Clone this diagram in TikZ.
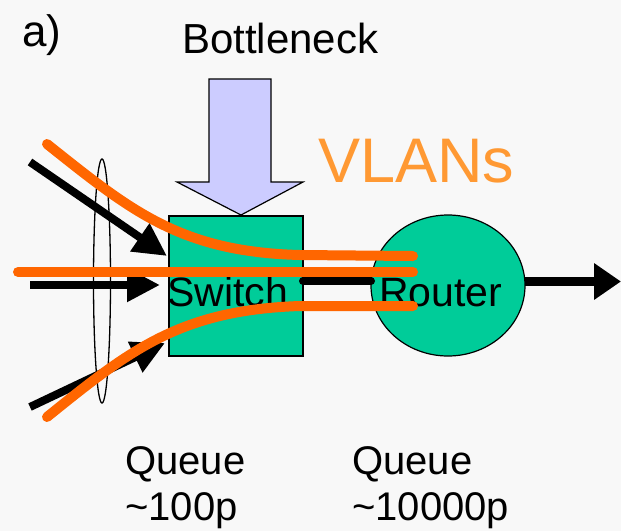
\documentclass[tikz,border=0pt]{standalone}
\usepackage{fontspec}
\setmainfont{Liberation Sans}
\usetikzlibrary{arrows.meta,shapes.geometric}
\definecolor{bgc}{HTML}{F8F8F8}
\definecolor{boxgreen}{HTML}{00CC99}
\definecolor{lav}{HTML}{CCCCFF}
\definecolor{vorange}{HTML}{FF6600}
\definecolor{torange}{HTML}{FF9933}
\tikzset{
  blk/.style={line width=8pt, draw=black},
  bighead/.style={-{Triangle[length=33pt,width=32pt]}},
  vlan/.style={line width=10pt, draw=vorange, line cap=round},
  lbl/.style={anchor=base west, inner sep=0pt, font=\fontsize{40}{48}\selectfont},
  dev/.style={draw=black, line width=1.2pt, fill=boxgreen, inner sep=0pt}
}
\begin{document}
\begin{tikzpicture}[x=1pt,y=-1pt]
\useasboundingbox (0,0) rectangle (621,531);
\fill[bgc] (0,0) rectangle (621,531);
% aggregation ellipse
\draw[line width=1.3pt] (102,281) ellipse [x radius=8.5pt, y radius=122pt];
% bottleneck arrow
\draw[line width=1.2pt, fill=lav, line join=miter]
  (209,79) -- (271,79) -- (271,182) -- (303,182) -- (241,215) -- (177,182) -- (209,182) -- cycle;
% devices
\node[dev, rectangle, minimum width=134pt, minimum height=140pt] (sw) at (236,286) {};
\node[dev, ellipse, minimum width=154pt, minimum height=141pt] (rt) at (448,285.5) {};
% coordinates
\coordinate (in1) at (30,162);
\coordinate (in2) at (30,285);
\coordinate (in3) at (30,407);
\coordinate (t1) at (167,256);
\coordinate (t2) at (160,285);
\coordinate (t3) at (165,343);
\coordinate (l1) at (303,281);
\coordinate (l2) at (371,281);
\coordinate (o1) at (525,281.5);
\coordinate (o2) at (621,281.5);
% black arrows
\draw[blk, bighead] (in1) -- (t1);
\draw[blk, bighead] (in2) -- (t2);
\draw[blk, bighead] (in3) -- (t3);
\draw[blk, line cap=round] (l1) -- (l2);
\draw[line width=8.5pt, -{Triangle[length=27pt,width=35pt]}] (o1) -- (o2);
% texts under VLAN lines
\node[lbl, font=\fontsize{41}{48}\selectfont] (swt) at (167,306) {Switch};
\node[lbl, font=\fontsize{41}{48}\selectfont] (rtt) at (379,306) {Router};
% VLAN lines
\draw[vlan] (47,144) .. controls (130,210) and (180,252) .. (300,255) -- (413,256);
\draw[vlan] (18,272) -- (413,272);
\draw[vlan] (47,417) .. controls (130,350) and (180,310) .. (300,306) -- (413,306);
% labels
\node[lbl, font=\fontsize{44}{50}\selectfont] (a) at (22,46) {a)};
\node[lbl, font=\fontsize{42}{50}\selectfont] (bn) at (182,53) {Bottleneck};
\node[lbl, text=torange, font=\fontsize{63}{70}\selectfont] (vl) at (318,182) {VLANs};
\node[lbl] (q1) at (125,474) {Queue};
\node[lbl] (n1) at (125,520) {\textasciitilde100p};
\node[lbl] (q2) at (352,474) {Queue};
\node[lbl] (n2) at (352,520) {\textasciitilde10000p};
\end{tikzpicture}
\end{document}
